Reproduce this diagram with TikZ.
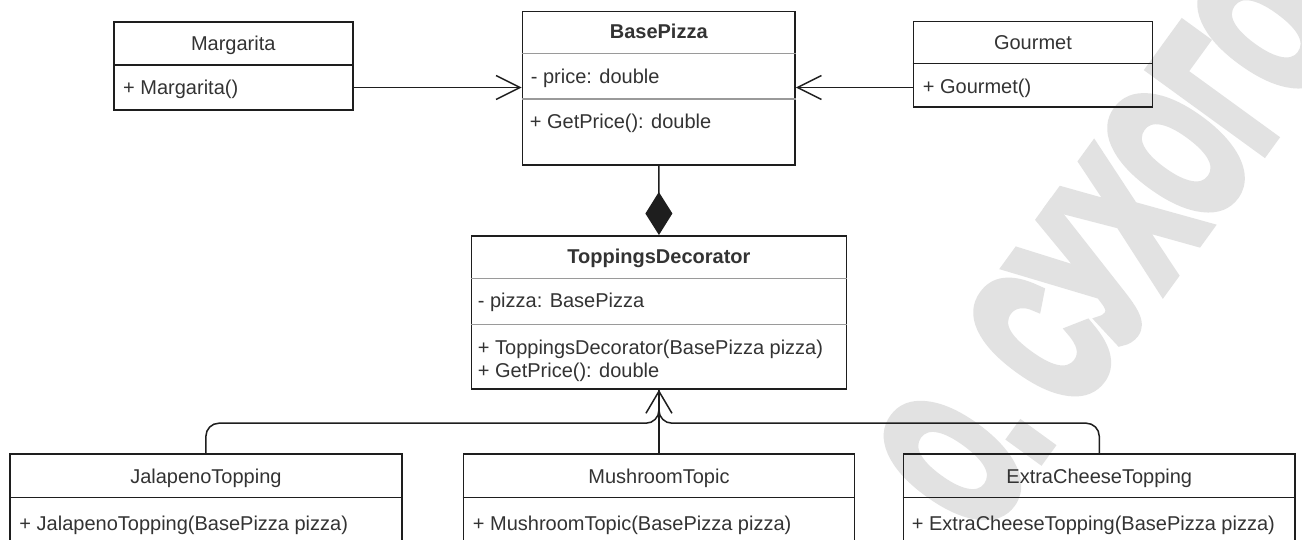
\documentclass[tikz,border=0pt]{standalone}
\usepackage{fontspec}
\setmainfont{Liberation Sans}
\newfontfamily\stampfont[FakeBold=8]{Liberation Sans Bold}
\usetikzlibrary{arrows.meta}
\definecolor{ink}{HTML}{1E1E1E}
\definecolor{txt}{HTML}{333333}
\definecolor{rulegray}{HTML}{9A9A9A}
\definecolor{wmgray}{HTML}{E2E2E2}
\begin{document}
\begin{tikzpicture}[x=1pt,y=-1pt,
  cls/.style={draw=ink, line width=1.5pt, rectangle, inner sep=0pt, anchor=north west},
  ttl/.style={font=\fontsize{20}{24}\selectfont\bfseries, text=txt, inner sep=0pt,
              text height=14.3pt, text depth=0pt},
  mem/.style={font=\fontsize{20}{24}\selectfont, text=txt, inner sep=0pt,
              text height=14.3pt, text depth=0pt, anchor=west},
  hardrule/.style={draw=ink, line width=1.5pt},
  softrule/.style={draw=rulegray, line width=1.2pt},
  conn/.style={draw=ink, line width=1.5pt},
  opentip/.style={-{Straight Barb[length=24pt,width=24pt]}},
  wmtext/.style={font=\stampfont\fontsize{195}{195}\selectfont, text=wmgray, inner sep=0pt},
]
\useasboundingbox (0,0) rectangle (1302,539);
\fill[white] (0,0) rectangle (1302,539);
\clip (0,0) rectangle (1302,539);

% background stamp
\node[wmtext, rotate=54, anchor=base east] (wm) at (1347,32) {\scalebox{0.59}[1]{О. СУХОГО}};

% ---- class boxes ----
\node[cls, minimum width=239pt, minimum height=88pt] (mg) at (113,21) {};
\draw[hardrule] ([yshift=-44pt]mg.north west) -- ([yshift=-44pt]mg.north east);
\node[ttl] (mg-t) at ([yshift=-22pt]mg.north) {\mdseries Margarita};
\node[mem] (mg-m) at ([xshift=10pt,yshift=-66.5pt]mg.north west) {+ Margarita()};

\node[cls, minimum width=272.6pt, minimum height=153.3pt] (bp) at (521.7,10.7) {};
\draw[softrule] ([yshift=-42.6pt]bp.north west) -- ([yshift=-42.6pt]bp.north east);
\draw[softrule] ([yshift=-88.3pt]bp.north west) -- ([yshift=-88.3pt]bp.north east);
\node[ttl] (bp-t) at ([yshift=-20.5pt]bp.north) {BasePizza};
\node[mem] (bp-a) at ([xshift=9pt,yshift=-65.5pt]bp.north west) {- price: double};
\node[mem] (bp-m) at ([xshift=8pt,yshift=-110.5pt]bp.north west) {+ GetPrice(): double};

\node[cls, minimum width=239pt, minimum height=85.3pt] (gm) at (912.7,20.7) {};
\draw[hardrule] ([yshift=-42.6pt]gm.north west) -- ([yshift=-42.6pt]gm.north east);
\node[ttl] (gm-t) at ([yshift=-21.5pt]gm.north) {\mdseries Gourmet};
\node[mem] (gm-m) at ([xshift=10pt,yshift=-65.5pt]gm.north west) {+ Gourmet()};

\node[cls, minimum width=375pt, minimum height=153.3pt] (td) at (470.7,235) {};
\draw[softrule] ([yshift=-43.3pt]td.north west) -- ([yshift=-43.3pt]td.north east);
\draw[softrule] ([yshift=-89.3pt]td.north west) -- ([yshift=-89.3pt]td.north east);
\node[ttl] (td-t) at ([yshift=-21pt]td.north) {ToppingsDecorator};
\node[mem] (td-a) at ([xshift=7pt,yshift=-65.5pt]td.north west) {- pizza: BasePizza};
\node[mem] (td-m1) at ([xshift=7pt,yshift=-112.8pt]td.north west) {+ ToppingsDecorator(BasePizza pizza)};
\node[mem] (td-m2) at ([xshift=7pt,yshift=-135.8pt]td.north west) {+ GetPrice(): double};

\node[cls, minimum width=391.7pt, minimum height=110pt] (jal) at (9.3,453.3) {};
\draw[hardrule] ([yshift=-44.4pt]jal.north west) -- ([yshift=-44.4pt]jal.north east);
\node[ttl] (jal-t) at ([yshift=-23pt]jal.north) {\mdseries JalapenoTopping};
\node[mem] (jal-m) at ([xshift=10pt,yshift=-70pt]jal.north west) {+ JalapenoTopping(BasePizza pizza)};

\node[cls, minimum width=391pt, minimum height=110pt] (mr) at (462.7,453.3) {};
\draw[hardrule] ([yshift=-44.4pt]mr.north west) -- ([yshift=-44.4pt]mr.north east);
\node[ttl] (mr-t) at ([yshift=-23pt]mr.north) {\mdseries MushroomTopic};
\node[mem] (mr-m) at ([xshift=10pt,yshift=-70pt]mr.north west) {+ MushroomTopic(BasePizza pizza)};

\node[cls, minimum width=391.6pt, minimum height=110pt] (ec) at (902.7,453.3) {};
\draw[hardrule] ([yshift=-44.4pt]ec.north west) -- ([yshift=-44.4pt]ec.north east);
\node[ttl] (ec-t) at ([yshift=-23pt]ec.north) {\mdseries ExtraCheeseTopping};
\node[mem] (ec-m) at ([xshift=9pt,yshift=-70pt]ec.north west) {+ ExtraCheeseTopping(BasePizza pizza)};

% ---- relations ----
\draw[conn, opentip] (mg-m -| mg.east) -- (mg-m -| bp.west);
\draw[conn, opentip] (mg-m -| gm.west) -- (mg-m -| bp.east);
\draw[conn, {Diamond[length=43pt,width=27pt]}-] (td.north) -- (bp.south);

\path (td.south) ++(0,33.4) coordinate (jn);
\draw[conn, rounded corners=13pt] (jal.north) |- (jn) -- (td.south);
\draw[conn, rounded corners=13pt] (ec.north) |- (jn) -- (td.south);
\draw[conn, -{Straight Barb[length=22pt,width=26pt]}] (mr.north) -- (td.south);
\end{tikzpicture}
\end{document}
